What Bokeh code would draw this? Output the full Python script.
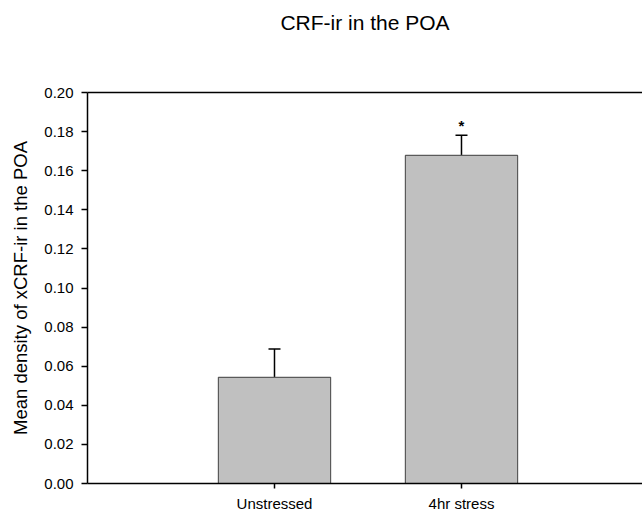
from bokeh.plotting import figure
from bokeh.models import (Range1d, LinearAxis, FixedTicker, Whisker, TeeHead,
                          ColumnDataSource, NumeralTickFormatter)
from bokeh.core.properties import value
from bokeh.embed import file_html
from bokeh.resources import INLINE

# ---- data ----
categories = ["Unstressed", "4hr stress"]
means = [0.0543, 0.1678]
sem = [0.0145, 0.0103]
significance = ["", "*"]
title_text = "CRF-ir in the POA"
y_label = "Mean density of xCRF-ir in the POA"
y_ticks = [0.00, 0.02, 0.04, 0.06, 0.08, 0.10, 0.12, 0.14, 0.16, 0.18, 0.20]

FONT = "Liberation Sans"

xpos = [i + 1 for i in range(len(categories))]
upper = [m + s for m, s in zip(means, sem)]
src = ColumnDataSource(dict(x=xpos, top=means, upper=upper, sig=significance))

p = figure(width=642, height=514, output_backend="svg", toolbar_location=None,
           x_range=Range1d(0, 2.968), y_range=Range1d(0, 0.20),
           min_border_left=87, min_border_right=0, min_border_top=92,
           min_border_bottom=30)
p.outline_line_color = None
p.grid.visible = False
p.background_fill_color = "white"
p.border_fill_color = "white"

p.title.text = title_text
p.title.align = "center"
p.title.text_font = FONT
p.title.text_font_size = "21px"
p.title.text_font_style = "normal"
p.title.text_color = "black"
p.title.standoff = 10

p.vbar(x="x", top="top", width=0.6, source=src, fill_color="#C0C0C0",
       line_color="#5a5a5a", line_width=1.2)

w = Whisker(base="x", lower="top", upper="upper", source=src, dimension="height",
            line_color="black", line_width=1.5,
            upper_head=TeeHead(size=12, line_color="black", line_width=1.5),
            lower_head=None)
p.add_layout(w)

p.text(x="x", y="upper", text="sig", source=src, text_align="center",
       text_baseline="middle", y_offset=-10, text_font=value(FONT),
       text_font_size="15px", text_font_style="bold", text_color="black")

# y axis
ya = p.yaxis[0]
ya.ticker = FixedTicker(ticks=y_ticks)
ya.formatter = NumeralTickFormatter(format="0.00")
ya.axis_label = y_label
ya.axis_label_text_font = FONT
ya.axis_label_text_font_size = "18.5px"
ya.axis_label_text_font_style = "normal"
ya.axis_label_text_color = "black"
ya.axis_label_standoff = 10
ya.major_label_text_font = FONT
ya.major_label_text_font_size = "15px"
ya.major_label_standoff = 8
ya.major_tick_in = 0
ya.major_tick_out = 6
ya.minor_tick_line_color = None
ya.axis_line_width = 1.5
ya.major_tick_line_width = 1.5
ya.axis_line_color = "black"
ya.major_label_text_color = "black"

# x axis
xa = p.xaxis[0]
xa.ticker = FixedTicker(ticks=xpos)
xa.major_label_overrides = {x: c for x, c in zip(xpos, categories)}
xa.major_label_text_font = FONT
xa.major_label_text_font_size = "15px"
xa.major_label_standoff = 6
xa.major_tick_in = 0
xa.major_tick_out = 5
xa.minor_tick_line_color = None
xa.axis_line_width = 1.5
xa.major_tick_line_width = 1.5
xa.axis_line_color = "black"
xa.major_label_text_color = "black"

# top frame line (also spaces the title upward)
top_ax = LinearAxis(ticker=FixedTicker(ticks=[]), axis_line_width=1.5,
                    axis_line_color="black", major_tick_line_color=None,
                    minor_tick_line_color=None, major_label_text_font_size="0px",
                    axis_label=" ", axis_label_text_font_size="1px",
                    axis_label_standoff=50)
p.add_layout(top_ax, "above")

open("out.html", "w").write(file_html(p, INLINE))
